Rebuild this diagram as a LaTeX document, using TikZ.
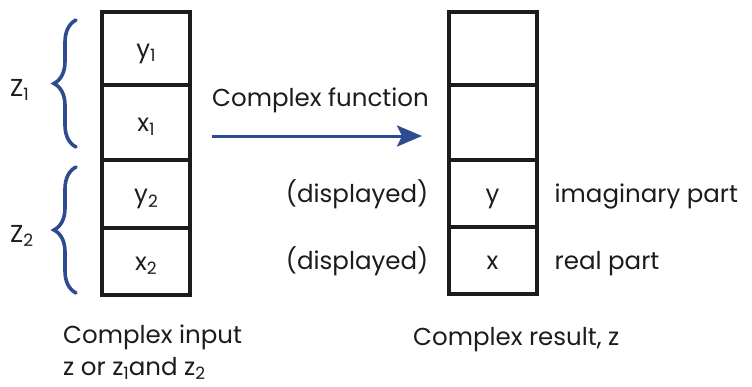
\documentclass[tikz,border=0pt]{standalone}
\usepackage{fontspec}
\setmainfont{Poppins}
\usepackage{tikz}
\usetikzlibrary{positioning,arrows.meta,decorations.pathreplacing}
\definecolor{fnblue}{HTML}{2F4B8F}
\definecolor{ink}{HTML}{1C1C1C}
\newcommand{\diagfont}{\fontsize{24.5}{32}\selectfont}
\newcommand{\idx}[1]{\raisebox{-0.2em}{\fontsize{17}{17}\selectfont #1}}

\begin{document}
\begin{tikzpicture}[x=1pt, y=1pt,
  cell/.style={draw=ink, line width=4pt, minimum width=88pt, minimum height=#1, outer sep=0pt, inner sep=0pt, text height=17pt, text depth=0pt, font=\diagfont, text=ink},
  cell/.default=70pt,
  lbl/.style={inner sep=0pt, font=\diagfont, text=ink},
  part/.style={draw=fnblue, line width=3.6pt, line cap=round, decorate, decoration={brace, amplitude=22pt}},
  >={Stealth[length=25pt, width=21pt, inset=5pt]}]
\useasboundingbox (0,0) rectangle (752,-386);

% input stack
\node[cell=73pt, anchor=north] (in1) at (146,-12) {y\idx{1}};
\node[cell=75pt, below=0pt of in1] (in2) {x\idx{1}};
\node[cell=68pt, below=0pt of in2] (in3) {y\idx{2}};
\node[cell=67pt, below=0pt of in3] (in4) {x\idx{2}};

% result stack
\begin{scope}[every node/.append style={minimum width=99pt}]
\node[cell=73pt, anchor=north] (out1) at (492.5,-12) {};
\node[cell=75pt, below=0pt of out1] (out2) {};
\node[cell=67pt, below=0pt of out2] (out3) {y};
\node[cell=67pt, below=0pt of out3] (out4) {x};
\end{scope}

% the two halves of the input
\draw[part] (76,-147) -- (76,-20);
\draw[part] (76,-293) -- (76,-167);
\node[lbl, anchor=base west] (z1) at (10,-96) {Z\idx{1}};
\node[lbl, anchor=base west] (z2) at (10,-242) {Z\idx{2}};

% function arrow
\node[lbl, anchor=base west] (fn) at (212,-106) {Complex function};
\coordinate (fnstart) at (212,-136);
\coordinate (fnend) at (422,-136);
\draw[->, fnblue, line width=3pt] (fnstart) -- (fnend);

\node[lbl, base left=20pt of out3] (disp1) {(displayed)};
\node[lbl, base left=20pt of out4] (disp2) {(displayed)};
\node[lbl, base right=18pt of out3] (imag) {imaginary part};
\node[lbl, base right=18pt of out4] (real) {real part};

\node[lbl, anchor=base west, align=left] (incap) at (63,-375) {Complex input\\z or z\idx{1}and z\idx{2}};
\node[lbl, anchor=base west] (outcap) at (413,-345) {Complex result, z};
\end{tikzpicture}
\end{document}
